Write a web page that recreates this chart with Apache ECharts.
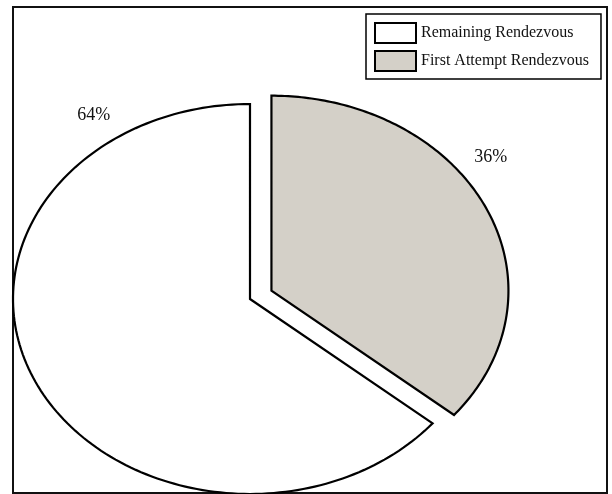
<!DOCTYPE html>
<html>
<head>
<meta charset="utf-8">
<script src="https://cdn.jsdelivr.net/npm/echarts@6/dist/echarts.min.js"></script>
<style>
  html, body { margin: 0; padding: 0; background: #fff; }
  #chart { width: 612px; height: 494px; }
</style>
</head>
<body>
<div id="chart"></div>
<script>
// Slice data (clockwise from 12 o'clock)
const categories = ['First Attempt Rendezvous', 'Remaining Rendezvous'];
const shares = [36, 64];
const legendOrder = ['Remaining Rendezvous', 'First Attempt Rendezvous'];

// Styling / layout
const sliceColors = ['#d4d0c8', '#ffffff'];
const explode = [0.1, 0];          // fraction of radius each slice is pulled out
const labelAngles = [53.6, 325];   // degrees, clockwise from top
const PIE = { cx: 250, cy: 299, rx: 237, ry: 195, labelR: 1.15 };
const FONT = 'Liberation Serif, Times New Roman, serif';

const total = shares.reduce((a, b) => a + b, 0);

function renderSlice(params, api) {
  const value = api.value(0);
  const idx = api.value(1);
  let before = 0;
  for (let k = 0; k < idx; k++) before += shares[k];
  const a0 = before / total * Math.PI * 2;
  const a1 = a0 + value / total * Math.PI * 2;
  const mid = (a0 + a1) / 2;
  const cx = PIE.cx + explode[idx] * PIE.rx * Math.sin(mid);
  const cy = PIE.cy - explode[idx] * PIE.ry * Math.cos(mid);
  const pts = [[cx, cy]];
  const N = 160;
  for (let s = 0; s <= N; s++) {
    const t = a0 + (a1 - a0) * s / N;
    pts.push([cx + PIE.rx * Math.sin(t), cy - PIE.ry * Math.cos(t)]);
  }
  const la = labelAngles[idx] * Math.PI / 180;
  const lx = cx + PIE.labelR * PIE.rx * Math.sin(la);
  const ly = cy - PIE.labelR * PIE.ry * Math.cos(la);
  return {
    type: 'group',
    children: [
      {
        type: 'polygon',
        shape: { points: pts },
        style: { fill: sliceColors[idx], stroke: '#000', lineWidth: 2.2, lineJoin: 'miter' }
      },
      {
        type: 'text',
        x: lx, y: ly,
        style: {
          text: Math.round(value / total * 100) + '%',
          fill: '#111',
          font: '18px ' + FONT,
          align: 'center',
          verticalAlign: 'middle'
        }
      }
    ]
  };
}

const chart = echarts.init(document.getElementById('chart'), null, { renderer: 'canvas' });

chart.setOption({
  animation: false,
  backgroundColor: '#fff',
  graphic: [
    {
      type: 'rect',
      z: -10,
      shape: { x: 13, y: 7, width: 594, height: 486 },
      style: { fill: '#fff', stroke: '#111', lineWidth: 2 }
    }
  ],
  legend: {
    orient: 'vertical',
    left: 366,
    top: 14,
    padding: [8, 12, 7, 8],
    itemGap: 6,
    itemWidth: 41,
    itemHeight: 20,
    selectedMode: false,
    borderColor: '#000',
    borderWidth: 1.5,
    backgroundColor: '#fff',
    textStyle: { fontFamily: FONT, fontSize: 16, color: '#111' },
    data: legendOrder.map(name => ({
      name: name,
      icon: 'rect',
      itemStyle: {
        color: sliceColors[categories.indexOf(name)],
        borderColor: '#000',
        borderWidth: 2
      }
    }))
  },
  series: categories.map((name, i) => ({
    type: 'custom',
    name: name,
    coordinateSystem: 'none',
    itemStyle: { color: sliceColors[i], borderColor: '#000' },
    data: [[shares[i], i]],
    renderItem: renderSlice
  }))
});
</script>
</body>
</html>
